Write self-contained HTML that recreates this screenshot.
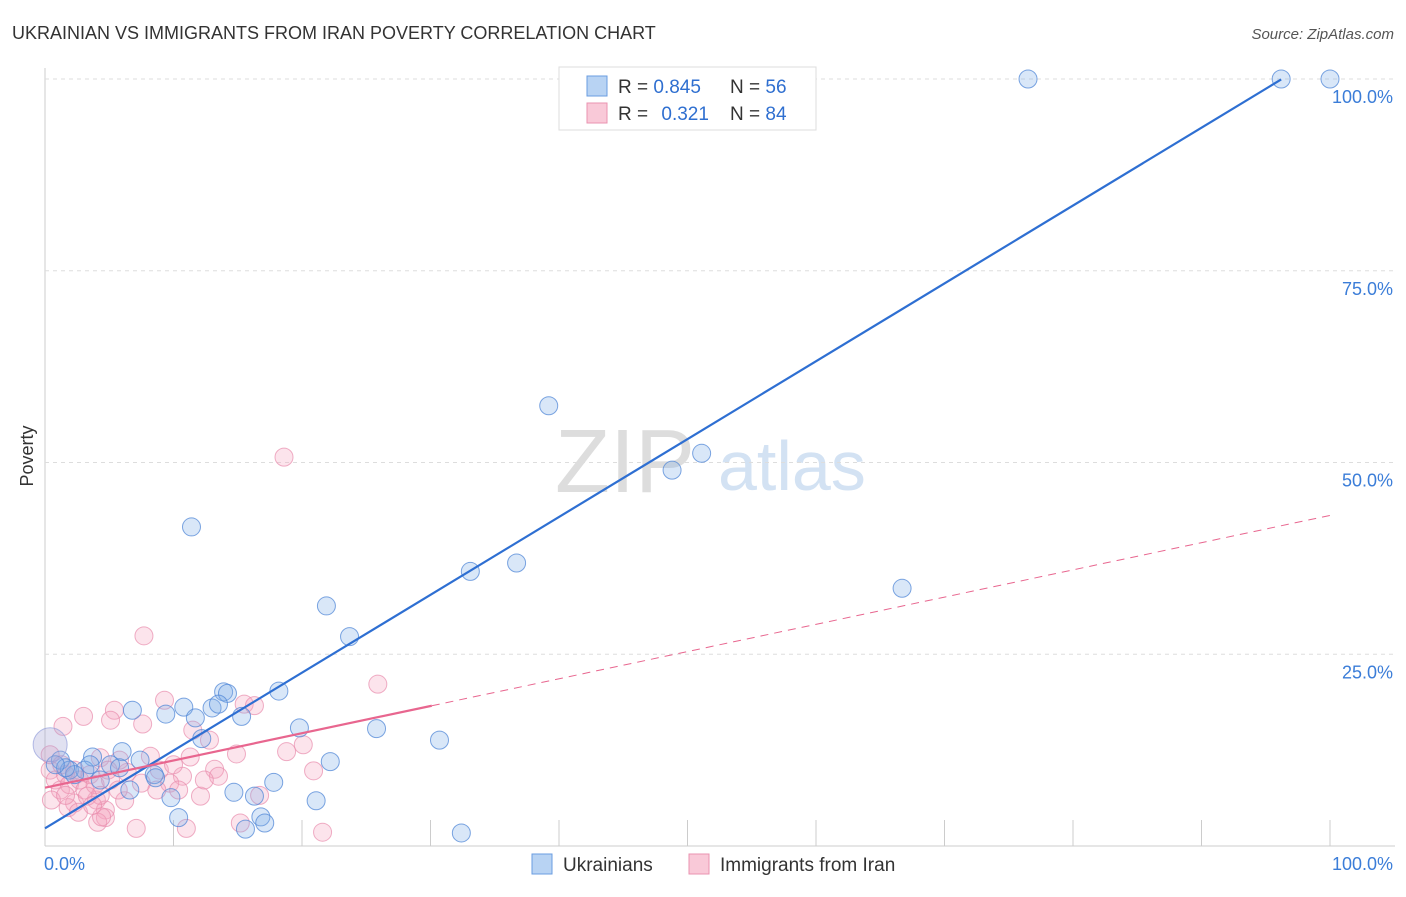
<!DOCTYPE html>
<html><head><meta charset="utf-8"><style>
body{margin:0;background:#fff;font-family:"Liberation Sans",sans-serif}
svg text{font-family:"Liberation Sans",sans-serif}
</style></head><body>
<svg id="c" width="1406" height="892" xmlns="http://www.w3.org/2000/svg">
<text x="12" y="39" font-size="18" fill="#333">UKRAINIAN VS IMMIGRANTS FROM IRAN POVERTY CORRELATION CHART</text>
<text x="1394" y="39" font-size="15" fill="#555" font-style="italic" text-anchor="end">Source: ZipAtlas.com</text>
<text x="33" y="456" font-size="18" fill="#333" transform="rotate(-90 33 456)" text-anchor="middle">Poverty</text>
<text x="555" y="492" font-size="90" fill="#ddd" font-family="Liberation Serif">ZIP</text>
<text x="718" y="490" font-size="70" fill="#d3e2f3">atlas</text>
<g id="grid"></g><g id="pts"></g><g id="lines"></g>
<g>
<rect x="559" y="67" width="257" height="63" fill="#fff" stroke="#ddd"/>
<rect x="587" y="76" width="20" height="20" fill="#b8d3f3" stroke="#6a9de0"/>
<rect x="587" y="103" width="20" height="20" fill="#f9c9d8" stroke="#ea93b0"/>
<text x="618" y="93" font-size="19" fill="#333">R = <tspan fill="#2f6fd0">0.845</tspan><tspan x="730">N = </tspan><tspan fill="#2f6fd0">56</tspan></text>
<text x="618" y="120" font-size="19" fill="#333">R = <tspan fill="#2f6fd0" dx="8">0.321</tspan><tspan x="730">N = </tspan><tspan fill="#2f6fd0">84</tspan></text>
</g>
<g>
<rect x="532" y="854" width="20" height="20" fill="#b8d3f3" stroke="#6a9de0"/>
<text x="563" y="871" font-size="19" fill="#333">Ukrainians</text>
<rect x="689" y="854" width="20" height="20" fill="#f9c9d8" stroke="#ea93b0"/>
<text x="720" y="871" font-size="19" fill="#333">Immigrants from Iran</text>
</g>
</svg>
<script>
const yTicks=[25,50,75,100];
const yTickLabels=["25.0%","50.0%","75.0%","100.0%"];
const xEndLabels=["0.0%","100.0%"];
const blueX=[76.5,96.2,100,39.2,48.8,51.1,11.4,33.1,36.7,66.7,21.9,23.7,13.9,14.2,18.2,9.4,10.8,13.0,13.5,15.3,11.7,6.8,19.8,25.8,30.7,12.2,6.0,3.7,8.5,22.2,17.8,14.7,16.3,21.1,9.8,10.4,16.8,17.1,15.6,32.4,5.1,7.4,1.2,1.9,4.3,8.6,3.1,2.3,5.8,6.6,3.5,1.6,0.8];
const blueY=[100,100,100,57.4,49.0,51.2,41.6,35.8,36.9,33.6,31.3,27.3,20.1,19.9,20.2,17.2,18.1,18.0,18.5,16.9,16.7,17.7,15.4,15.3,13.8,14.0,12.3,11.6,9.3,11.0,8.3,7.0,6.5,5.9,6.3,3.7,3.8,3.0,2.2,1.7,10.6,11.2,11.2,9.9,8.6,8.9,9.9,9.3,10.2,7.3,10.6,10.2,10.6];
const pinkX=[18.6,7.7,25.9,9.3,15.5,16.3,5.4,3.0,1.4,5.1,7.6,11.5,12.8,20.1,14.9,11.3,8.2,4.3,18.8,13.2,20.9,10.7,13.5,6.4,7.5,9.7,12.1,8.7,6.2,4.0,2.3,4.7,4.7,4.1,7.1,11.0,15.2,21.6,0.4,0.8,1.2,1.6,1.9,2.3,2.7,3.1,3.5,3.9,4.3,5.1,5.7,0.4,0.5,1.8,2.6,3.3,4.4,5.8,8.9,10.0,1.3,1.6,3.7,4.9,12.4,16.7,10.4];
const pinkY=[50.7,27.4,21.1,19.0,18.5,18.3,17.7,16.9,15.6,16.4,15.9,15.1,13.8,13.2,12.0,11.6,11.7,11.5,12.3,10.0,9.8,9.1,9.1,9.6,8.2,8.2,6.5,7.3,5.9,6.0,5.6,4.7,3.7,3.1,2.3,2.3,3.0,1.8,9.9,8.6,7.3,9.3,8.0,9.9,8.6,7.3,9.3,8.0,6.6,8.6,7.3,11.9,6.0,5.0,4.4,6.5,3.8,11.2,9.9,10.6,10.6,6.6,5.3,9.9,8.6,6.6,7.3];
const blueFit=[2.3,1.015]; const blueRange=[0,96.2];
const pinkFit=[7.6,0.355]; const pinkSolidEnd=30.1;
const NS="http://www.w3.org/2000/svg";
const sx=v=>45+v*12.85, sy=v=>846-v*7.67;
function mk(t,a,p){const e=document.createElementNS(NS,t);for(const k in a)e.setAttribute(k,a[k]);p.appendChild(e);return e;}
const g=document.getElementById('grid');
mk('line',{x1:45,y1:68,x2:45,y2:846,stroke:'#ccc'},g);
mk('line',{x1:45,y1:846,x2:1395,y2:846,stroke:'#ccc'},g);
yTicks.forEach((t,i)=>{
 const l=mk('line',{x1:45,y1:sy(t),x2:1395,y2:sy(t),stroke:'#ddd','stroke-dasharray':'4,4'},g);
 
 
 const tx=mk('text',{x:1393,y:sy(t)+24,'font-size':18,fill:'#3b7dd8','text-anchor':'end'},g);
 tx.textContent=yTickLabels[i];
 
 
});
for(let i=1;i<=10;i++){const l=mk('line',{x1:sx(i*10),y1:820,x2:sx(i*10),y2:846,stroke:'#ccc'},g);
 
 }
let t0=mk('text',{x:44,y:870,'font-size':18,fill:'#3b7dd8'},g);t0.textContent=xEndLabels[0];


let t1=mk('text',{x:1393,y:870,'font-size':18,fill:'#3b7dd8','text-anchor':'end'},g);t1.textContent=xEndLabels[1];


const P=document.getElementById('pts');
pinkX.forEach((x,i)=>{const c=mk('circle',{cx:sx(x),cy:sy(pinkY[i]),r:9,fill:'rgba(244,165,192,0.3)',stroke:'rgba(232,140,172,0.7)','stroke-width':1},P);
 
 });
blueX.forEach((x,i)=>{const c=mk('circle',{cx:sx(x),cy:sy(blueY[i]),r:9,fill:'rgba(130,175,232,0.3)',stroke:'rgba(80,135,215,0.75)','stroke-width':1},P);
 
 });
const big=mk('circle',{cx:sx(0.4),cy:sy(13.2),r:17,fill:'rgba(170,170,215,0.35)',stroke:'rgba(150,160,220,0.7)'},P);


const L=document.getElementById('lines');
const f=(fit,x)=>fit[0]+fit[1]*x;
let bl=mk('line',{x1:sx(blueRange[0]),y1:sy(f(blueFit,blueRange[0])),x2:sx(blueRange[1]),y2:sy(f(blueFit,blueRange[1])),stroke:'#2e6fd2','stroke-width':2.2},L);


let pl=mk('line',{x1:sx(0),y1:sy(f(pinkFit,0)),x2:sx(pinkSolidEnd),y2:sy(f(pinkFit,pinkSolidEnd)),stroke:'#e8668f','stroke-width':2.2},L);


let pd=mk('line',{x1:sx(pinkSolidEnd),y1:sy(f(pinkFit,pinkSolidEnd)),x2:sx(100),y2:sy(f(pinkFit,100)),stroke:'#e8668f','stroke-width':1,'stroke-dasharray':'8,6'},L);


</script>
</body></html>
